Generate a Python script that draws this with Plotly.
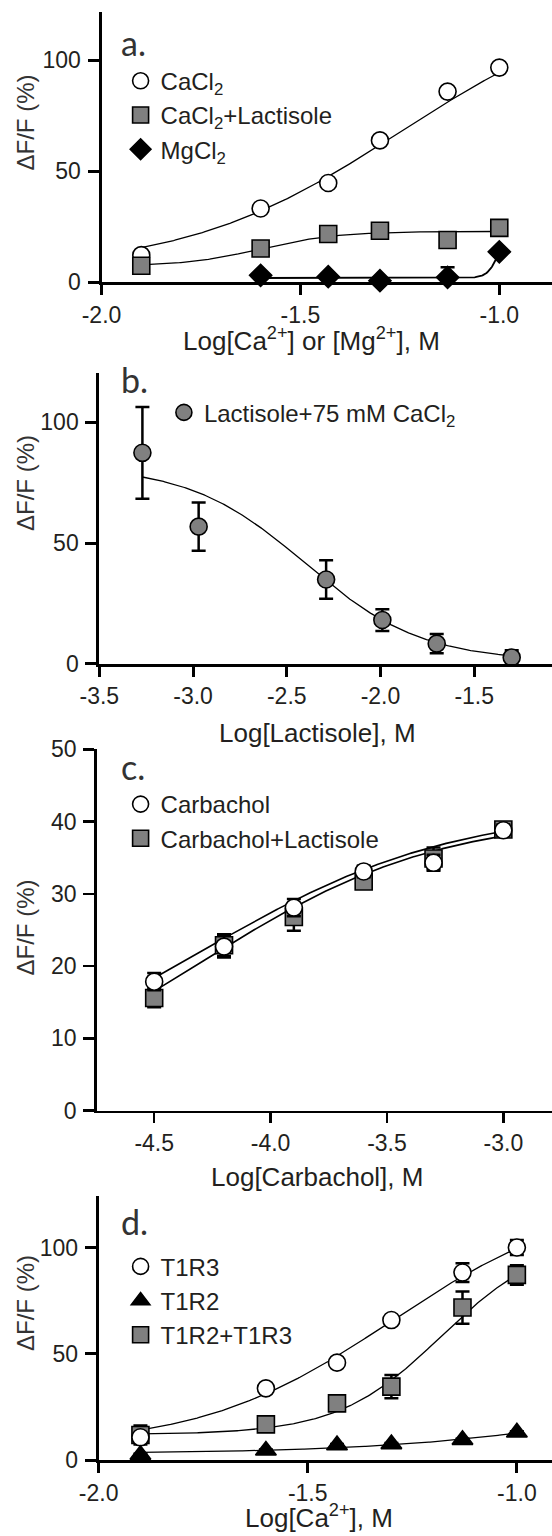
import numpy as np
import plotly.graph_objects as go

W, H = 552, 1536

# ---------------- data ----------------
# panel a
a_x = [-1.90, -1.60, -1.43, -1.30, -1.13, -1.00]
a_cacl2 = [12.1, 33.1, 44.6, 63.8, 85.8, 96.6]
a_cacl2_lact = [7.3, 15.1, 21.6, 23.1, 18.9, 24.4]
a_mg_x = [-1.60, -1.43, -1.30, -1.13, -1.00]
a_mg = [3.0, 2.4, 0.6, 2.1, 13.6]
a_mg_err = [0.0, 0.0, 0.0, 4.5, 0.0]
# fitted curves: bottom, top, logEC50, hill
a_fit_cacl2 = [5.0, 130.0, -1.25, 1.6]
a_fit_cacl2_lact = [7.0, 22.8, -1.60, 4.5]
a_fit_mg = [1.8, 25.0, -1.00, 30.0]

# panel b
b_x = [-3.27, -2.97, -2.29, -1.99, -1.70, -1.30]
b_y = [87.4, 56.8, 34.9, 18.1, 8.3, 2.6]
b_err = [19.0, 10.0, 8.0, 4.5, 4.0, 3.0]
b_fit = [1.0, 82.0, -2.40, -1.4]

# panel c
c_x = [-4.5, -4.2, -3.9, -3.6, -3.3, -3.0]
c_carb = [17.85, 22.7, 28.1, 33.1, 34.3, 38.8]
c_carb_err = [1.2, 1.5, 1.2, 0.8, 1.1, 0.8]
c_carb_lact = [15.6, 22.9, 26.8, 31.7, 34.9, 38.9]
c_carb_lact_err = [1.3, 1.5, 1.9, 0.8, 1.5, 0.8]
c_fit_carb = [2.0, 42.0, -4.30, 0.8]
c_fit_carb_lact = [0.0, 41.0, -4.30, 0.85]

# panel d
d_x = [-1.90, -1.60, -1.43, -1.30, -1.13, -1.00]
d_t1r3 = [10.7, 33.8, 45.9, 66.0, 88.4, 100.2]
d_t1r3_err = [1.0, 1.0, 1.0, 1.0, 4.4, 3.5]
d_t1r2 = [2.5, 4.5, 7.0, 7.5, 9.5, 13.0]
d_t1r2_err = [0.5, 0.5, 0.5, 0.5, 0.5, 0.5]
d_t1r2t1r3 = [11.8, 16.8, 26.7, 34.6, 71.9, 87.3]
d_t1r2t1r3_err = [4.5, 1.0, 1.0, 5.5, 7.6, 4.6]
d_fit_t1r3 = [6.0, 125.0, -1.30, 1.9]
d_fit_t1r2 = [3.0, 40.0, -0.70, 1.5]
d_fit_t1r2t1r3 = [12.0, 105.0, -1.18, 3.5]

# tick labels
a_xticks = [-2.0, -1.5, -1.0]
b_xticks = [-3.5, -3.0, -2.5, -2.0, -1.5]
c_xticks = [-4.5, -4.0, -3.5, -3.0]
d_xticks = [-2.0, -1.5, -1.0]
a_yticks = [0, 50, 100]
b_yticks = [0, 50, 100]
c_yticks = [0, 10, 20, 30, 40, 50]
d_yticks = [0, 50, 100]

# ---------------- helpers ----------------
FONT = "Liberation Sans"
TXT = "#231f20"
GRAY = "#808080"


def hill(xs, p):
    bottom, top, logec, n = p
    xs = np.asarray(xs, dtype=float)
    return bottom + (top - bottom) / (1.0 + 10 ** ((logec - xs) * n))


def fit_x(xs):
    return np.linspace(min(xs), max(xs), 300)


def px_x(p):
    return p / W


def px_y(p):
    return 1 - p / H


fig = go.Figure()


def fit_trace(xs, p, ax, width=1.3):
    xx = fit_x(xs)
    fig.add_trace(go.Scatter(x=xx, y=hill(xx, p), mode="lines",
                             line=dict(color="black", width=width),
                             xaxis="x" + ax, yaxis="y" + ax,
                             showlegend=False, hoverinfo="skip",
                             cliponaxis=False))


def pts_trace(xs, ys, err, name, ax, legend, rank, symbol, fill, size):
    fig.add_trace(go.Scatter(
        x=xs, y=ys, mode="markers", name=name,
        marker=dict(symbol=symbol, size=size, color=fill,
                    line=dict(color="black", width=1.6)),
        error_y=dict(type="data", array=err, visible=True, color="black",
                     thickness=2.5, width=7) if err is not None else None,
        xaxis="x" + ax, yaxis="y" + ax, legend=legend, legendrank=rank,
        cliponaxis=False))


# panel a (axis suffix "")
fit_trace(a_x, a_fit_cacl2, "")
fit_trace(a_x, a_fit_cacl2_lact, "")
fit_trace(a_mg_x, a_fit_mg, "", width=1.8)
pts_trace(a_x, a_cacl2, None, "CaCl<sub>2</sub>", "", "legend", 1, "circle", "white", 17)
pts_trace(a_mg_x, a_mg, a_mg_err, "MgCl<sub>2</sub>", "", "legend", 3, "diamond", "black", 17)
pts_trace(a_x, a_cacl2_lact, None, "CaCl<sub>2</sub>+Lactisole", "", "legend", 2, "square", GRAY, 17)

# panel b
fit_trace(b_x, b_fit, "2")
pts_trace(b_x, b_y, b_err, "Lactisole+75 mM CaCl<sub>2</sub>", "2", "legend2", 1, "circle", GRAY, 17)

# panel c
fit_trace(c_x, c_fit_carb, "3", width=1.6)
fit_trace(c_x, c_fit_carb_lact, "3", width=1.6)
pts_trace(c_x, c_carb_lact, c_carb_lact_err, "Carbachol+Lactisole", "3", "legend3", 2, "square", GRAY, 17)
pts_trace(c_x, c_carb, c_carb_err, "Carbachol", "3", "legend3", 1, "circle", "white", 17)

# panel d
fit_trace(d_x, d_fit_t1r3, "4")
fit_trace(d_x, d_fit_t1r2, "4")
fit_trace(d_x, d_fit_t1r2t1r3, "4")
pts_trace(d_x, d_t1r2t1r3, d_t1r2t1r3_err, "T1R2+T1R3", "4", "legend4", 3, "square", GRAY, 17)
pts_trace(d_x, d_t1r3, d_t1r3_err, "T1R3", "4", "legend4", 1, "circle", "white", 17)
pts_trace(d_x, d_t1r2, d_t1r2_err, "T1R2", "4", "legend4", 2, "triangle-up", "black", 18)

# ---------------- axes ----------------
def xaxis(domain_left, rng, ticks, anchor, lw=3):
    return dict(domain=[px_x(domain_left), 1], range=rng, anchor=anchor,
                tickvals=ticks, ticktext=["%.1f" % t for t in ticks],
                showgrid=False, zeroline=False, showline=True, automargin=False,
                linecolor="black", linewidth=lw, ticks="outside",
                ticklen=10, tickwidth=lw, tickcolor="black",
                ticklabelstandoff=0,
                tickfont=dict(family=FONT, size=23, color=TXT), fixedrange=True)


def yaxis(top_px, bottom_px, rng, ticks, anchor, lw=3):
    return dict(domain=[px_y(bottom_px), px_y(top_px)], range=rng, anchor=anchor,
                tickvals=ticks, showgrid=False, zeroline=False, showline=True,
                automargin=False,
                linecolor="black", linewidth=lw, ticks="outside",
                ticklen=11, tickwidth=lw, tickcolor="black",
                ticklabelstandoff=2,
                tickfont=dict(family=FONT, size=23, color=TXT), fixedrange=True)


layout = dict(
    template="none",
    width=W, height=H, margin=dict(l=0, r=0, t=0, b=0, pad=0, autoexpand=False),
    font=dict(family=FONT, size=23, color=TXT),
    paper_bgcolor="white", plot_bgcolor="white", showlegend=True,
    xaxis=xaxis(101.5, [-2.0, -0.8675], a_xticks, "y"),
    yaxis=yaxis(11.7, 282, [0, 121.8], a_yticks, "x"),
    xaxis2=xaxis(99.3, [-3.5, -1.085], b_xticks, "y2"),
    yaxis2=yaxis(372.7, 663.7, [0, 120.6], b_yticks, "x2"),
    xaxis3=xaxis(96.7, [-4.747, -2.791], c_xticks, "y3", lw=2.6),
    yaxis3=yaxis(749.3, 1110.7, [0, 50], c_yticks, "x3", lw=2.6),
    xaxis4=xaxis(98.6, [-2.0, -0.916], d_xticks, "y4"),
    yaxis4=yaxis(1196, 1460, [0, 124.5], d_yticks, "x4"),
)


def legend(mx, my):
    return dict(x=px_x(mx - 22), y=px_y(my - 24), xanchor="left", yanchor="top",
                bgcolor="rgba(0,0,0,0)", borderwidth=0,
                font=dict(family=FONT, size=24, color=TXT),
                itemclick=False, itemdoubleclick=False)


layout["legend"] = legend(142.6, 82.7)
layout["legend2"] = legend(185.9, 414.3)
layout["legend3"] = legend(142.6, 806)
layout["legend4"] = legend(142.6, 1268.3)

annotations = []
# panel letters
for txt, left, cy in [("a.", 119.0, 42.5), ("b.", 119.0, 379.5),
                      ("c.", 119.0, 766.5), ("d.", 119.0, 1221.0)]:
    annotations.append(dict(text=txt, x=px_x(left), y=px_y(cy), xref="paper", yref="paper",
                            xanchor="left", yanchor="middle", showarrow=False,
                            font=dict(family="Lato", size=34, color="#333333")))
# y titles
for cy in [122.5, 483.0, 927.5, 1303.0]:
    annotations.append(dict(text="ΔF/F (%)", x=px_x(25), y=px_y(cy), xref="paper", yref="paper",
                            xanchor="center", yanchor="middle", textangle=-90, showarrow=False,
                            font=dict(family=FONT, size=24, color="#333333")))
# x titles
for txt, cx, cy in [("Log[Ca<sup>2+</sup>] or [Mg<sup>2+</sup>], M", 311.6, 339.0),
                    ("Log[Lactisole], M", 317.0, 733.3),
                    ("Log[Carbachol], M", 317.0, 1177.0),
                    ("Log[Ca<sup>2+</sup>], M", 318.6, 1516.0)]:
    annotations.append(dict(text=txt, x=px_x(cx), y=px_y(cy), xref="paper", yref="paper",
                            xanchor="center", yanchor="middle", showarrow=False,
                            font=dict(family=FONT, size=26, color=TXT)))
layout["annotations"] = annotations

fig.update_layout(**layout)
fig.write_html("out.html",
               config={"displayModeBar": False, "staticPlot": True},
               post_script="document.body.style.margin='0px';document.body.style.padding='0px';")
